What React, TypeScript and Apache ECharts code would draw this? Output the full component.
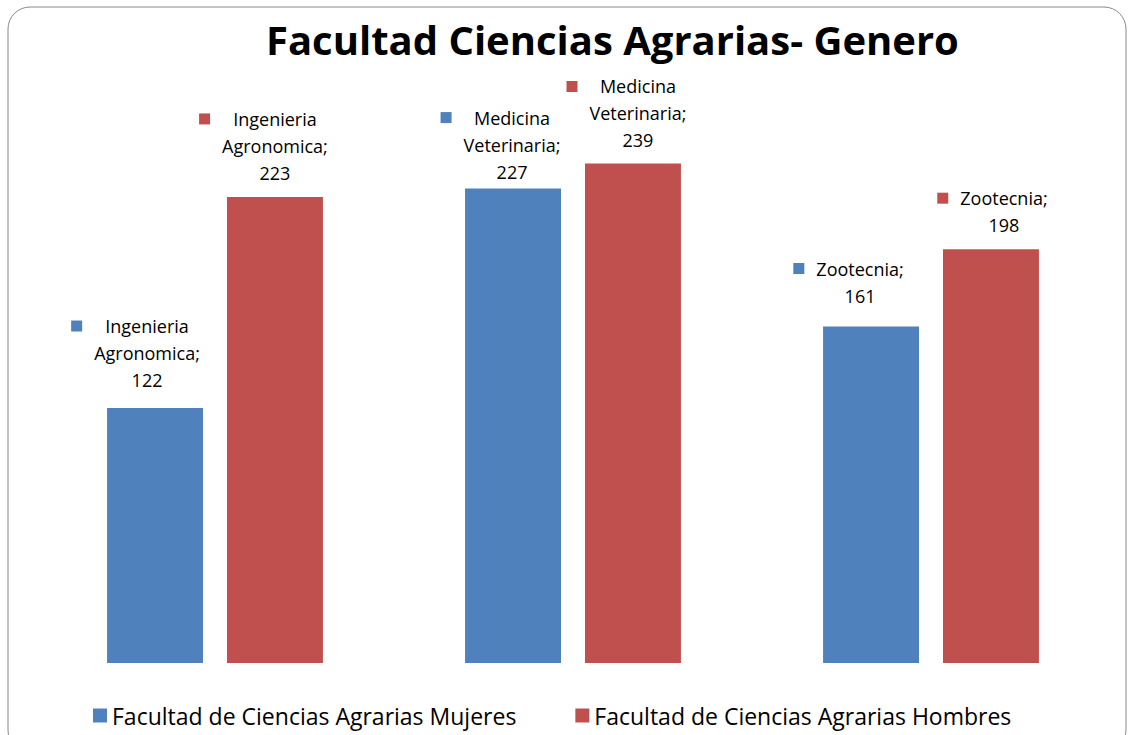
import React, { useEffect, useRef } from "react";
import * as echarts from "echarts";

const categories = ["Ingenieria Agronomica", "Medicina Veterinaria", "Zootecnia"];
const categoryLines = [["Ingenieria", "Agronomica"], ["Medicina", "Veterinaria"], ["Zootecnia"]];
const mujeres = [122, 227, 161];
const hombres = [223, 239, 198];
const seriesNames = ["Facultad de Ciencias Agrarias Mujeres", "Facultad de Ciencias Agrarias Hombres"];
const titleText = "Facultad Ciencias Agrarias- Genero";

const BLUE = "#4f81bd";
const RED = "#c0504d";
const LABEL_FONT = '"Open Sans", sans-serif';
const LABEL_SIZE = 18;

// label placement tweaks [dx, lift above bar top of last line centre]
const shiftM = [[-8, 28], [-1, 17], [-11, 31]];
const shiftH = [[0, 24], [5, 23], [13, 24]];

function measure(text: string): number {
  const c = document.createElement("canvas").getContext("2d")!;
  c.font = `${LABEL_SIZE}px ${LABEL_FONT}`;
  return c.measureText(text).width;
}

function makeItem(value: number, i: number, color: string, shift: number[]) {
  const lines = categoryLines[i].map((s, k, arr) => (k === arr.length - 1 ? s + ";" : s));
  const all = [...lines, String(value)];
  const widths = all.map(measure);
  const maxW = Math.max(...widths);
  const gap = (maxW - widths[0]) / 2 + 12;
  const txt =
    `{sq|}{g|}{t|${all[0]}}{p|}\n` + all.slice(1).map((s) => `{t|${s}}`).join("\n");
  return {
    value,
    label: {
      show: true,
      position: "top",
      distance: 0,
      offset: [shift[0], -(shift[1] - 13.5)],
      formatter: txt,
      align: "center",
      rich: {
        sq: { width: 11, height: 11, backgroundColor: color, verticalAlign: "middle" },
        g: { width: gap, height: 11 },
        p: { width: gap + 11, height: 11 },
        t: {
          fontFamily: LABEL_FONT,
          fontSize: LABEL_SIZE,
          lineHeight: 27,
          color: "#000",
          verticalAlign: "middle",
        },
      },
    },
  };
}

export default function App() {
  const ref = useRef<HTMLDivElement>(null);
  useEffect(() => {
    if (!ref.current) return;
    const chart = echarts.init(ref.current, undefined, { renderer: "svg" });
    chart.setOption({
      animation: false,
      backgroundColor: "#fff",
      title: {
        text: titleText,
        left: 266,
        top: 19,
        padding: 0,
        textStyle: {
          fontFamily: '"Open Sans", sans-serif',
          fontWeight: "bold",
          fontSize: 40,
          color: "#000",
        },
      },
      graphic: [
        {
          type: "rect",
          shape: { x: 8, y: 7, width: 1118, height: 745, r: 22 },
          style: { fill: "none", stroke: "#888", lineWidth: 1 },
          silent: true,
          z: -1,
        },
      ],
      legend: {
        left: 93,
        top: 704,
        padding: 0,
        itemWidth: 14,
        itemHeight: 14,
        itemGap: 59,
        icon: "rect",
        textStyle: { fontFamily: LABEL_FONT, fontSize: 23, color: "#000" },
        data: seriesNames,
      },
      grid: { left: 36, right: 18, top: 36, bottom: 72 },
      xAxis: {
        type: "category",
        data: categories,
        axisLine: { show: false },
        axisTick: { show: false },
        axisLabel: { show: false },
      },
      yAxis: {
        type: "value",
        min: 0,
        max: 300,
        show: false,
        splitLine: { show: false },
      },
      series: [
        {
          name: seriesNames[0],
          type: "bar",
          barWidth: "26.8%",
          barGap: "25%",
          itemStyle: { color: BLUE },
          data: mujeres.map((v, i) => makeItem(v, i, BLUE, shiftM[i])),
        },
        {
          name: seriesNames[1],
          type: "bar",
          barWidth: "26.8%",
          barGap: "25%",
          itemStyle: { color: RED },
          data: hombres.map((v, i) => makeItem(v, i, RED, shiftH[i])),
        },
      ],
    });
    return () => chart.dispose();
  }, []);
  return (
    <div
      ref={ref}
      style={{ position: "fixed", left: 0, top: 0, width: 1128, height: 735 }}
    />
  );
}
